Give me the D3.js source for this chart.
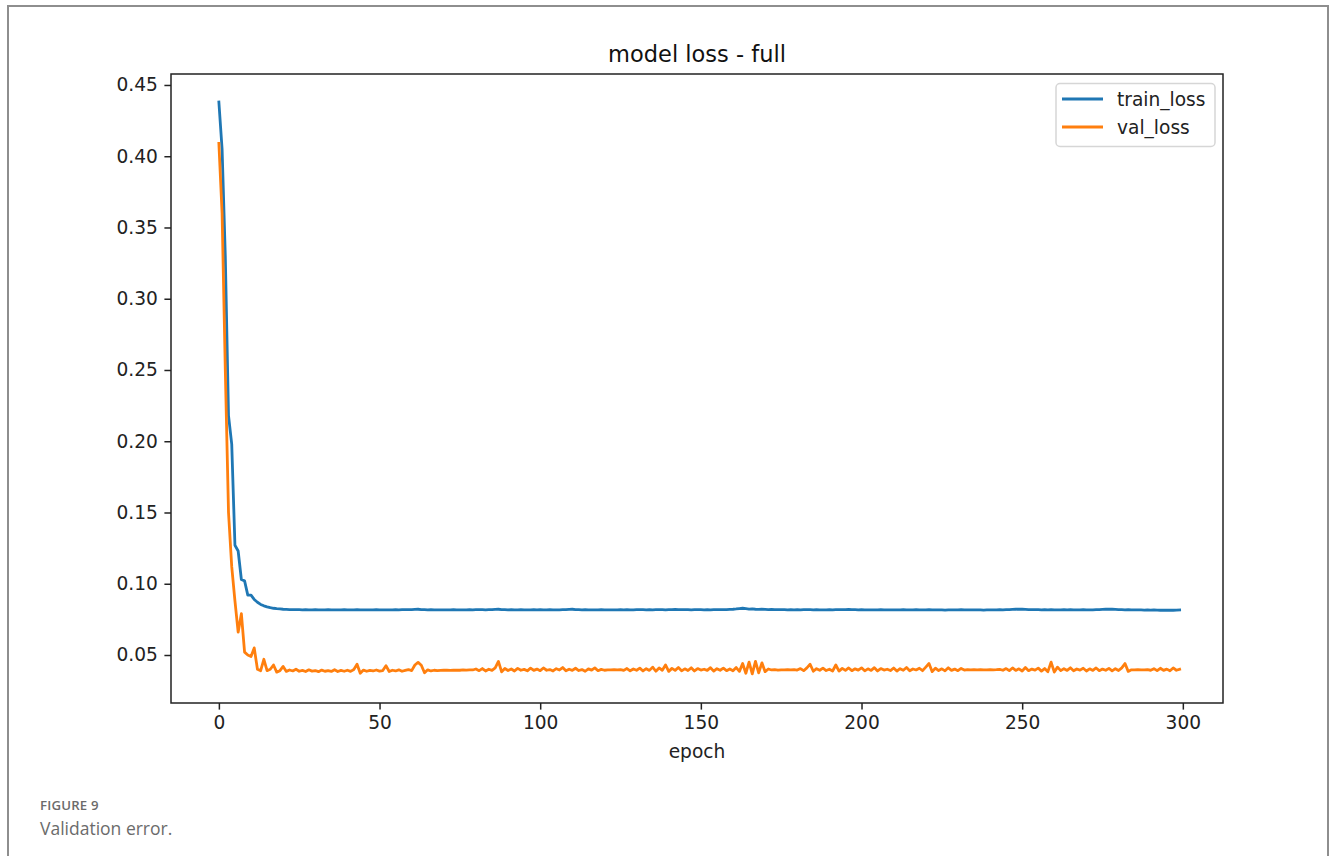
<!DOCTYPE html>
<html>
<head>
<meta charset="utf-8">
<script src="https://cdn.jsdelivr.net/npm/d3@7"></script>
<style>
  html, body { margin: 0; padding: 0; background: #fff; }
  svg { display: block; }
</style>
</head>
<body>
<svg id="chart"></svg>
<script>
const title = 'model loss - full'
const xLabel = 'epoch'
const seriesNames = ['train_loss', 'val_loss']
const xTicks = [0, 50, 100, 150, 200, 250, 300]
const yTicks = [0.05, 0.10, 0.15, 0.20, 0.25, 0.30, 0.35, 0.40, 0.45]

const trainLoss = [
  0.438, 0.405, 0.330, 0.218, 0.198, 0.127, 0.123, 0.103, 0.102, 0.092, 0.092, 0.089, 0.087, 0.0855, 0.0845, 0.0838, 0.0832, 0.0828, 0.0825, 0.0823,
  0.0821, 0.0820, 0.0819, 0.0819, 0.0818, 0.0818, 0.0817, 0.0818, 0.0817, 0.0817, 0.0818, 0.0817, 0.0816, 0.0817, 0.0818, 0.0817, 0.0816, 0.0817, 0.0817, 0.0818,
  0.0817, 0.0816, 0.0817, 0.0818, 0.0817, 0.0816, 0.0817, 0.0817, 0.0816, 0.0818, 0.0817, 0.0816, 0.0817, 0.0816, 0.0817, 0.0818, 0.0817, 0.0818, 0.0819, 0.0818,
  0.0819, 0.0820, 0.0821, 0.0819, 0.0818, 0.0817, 0.0818, 0.0817, 0.0816, 0.0817, 0.0817, 0.0816, 0.0817, 0.0818, 0.0817, 0.0816, 0.0817, 0.0817, 0.0818, 0.0817,
  0.0818, 0.0819, 0.0818, 0.0817, 0.0818, 0.0819, 0.0820, 0.0821, 0.0819, 0.0818, 0.0817, 0.0818, 0.0817, 0.0817, 0.0818, 0.0817, 0.0816, 0.0817, 0.0818, 0.0817,
  0.0818, 0.0817, 0.0817, 0.0818, 0.0817, 0.0816, 0.0817, 0.0818, 0.0819, 0.0820, 0.0821, 0.0819, 0.0818, 0.0817, 0.0818, 0.0817, 0.0816, 0.0817, 0.0817, 0.0818,
  0.0817, 0.0816, 0.0817, 0.0816, 0.0817, 0.0818, 0.0817, 0.0818, 0.0817, 0.0817, 0.0818, 0.0819, 0.0818, 0.0817, 0.0818, 0.0817, 0.0818, 0.0819, 0.0818, 0.0817,
  0.0818, 0.0819, 0.0820, 0.0819, 0.0818, 0.0819, 0.0818, 0.0817, 0.0818, 0.0819, 0.0818, 0.0817, 0.0818, 0.0817, 0.0818, 0.0819, 0.0818, 0.0818, 0.0819, 0.0820,
  0.0821, 0.0823, 0.0826, 0.0828, 0.0825, 0.0822, 0.0823, 0.0821, 0.0820, 0.0821, 0.0820, 0.0819, 0.0820, 0.0819, 0.0818, 0.0819, 0.0818, 0.0817, 0.0818, 0.0817,
  0.0818, 0.0817, 0.0818, 0.0819, 0.0818, 0.0817, 0.0818, 0.0817, 0.0816, 0.0817, 0.0818, 0.0817, 0.0818, 0.0819, 0.0818, 0.0819, 0.0820, 0.0819, 0.0818, 0.0817,
  0.0818, 0.0817, 0.0816, 0.0817, 0.0816, 0.0817, 0.0818, 0.0817, 0.0816, 0.0817, 0.0817, 0.0816, 0.0817, 0.0818, 0.0817, 0.0816, 0.0817, 0.0818, 0.0817, 0.0816,
  0.0817, 0.0818, 0.0817, 0.0816, 0.0817, 0.0816, 0.0815, 0.0816, 0.0817, 0.0816, 0.0817, 0.0818, 0.0817, 0.0816, 0.0817, 0.0816, 0.0817, 0.0816, 0.0815, 0.0816,
  0.0817, 0.0816, 0.0817, 0.0818, 0.0817, 0.0818, 0.0819, 0.0820, 0.0821, 0.0822, 0.0821, 0.0820, 0.0819, 0.0818, 0.0819, 0.0818, 0.0817, 0.0818, 0.0817, 0.0818,
  0.0817, 0.0816, 0.0817, 0.0818, 0.0817, 0.0818, 0.0817, 0.0816, 0.0817, 0.0818, 0.0817, 0.0816, 0.0817, 0.0818, 0.0819, 0.0820, 0.0821, 0.0822, 0.0821, 0.0820,
  0.0819, 0.0818, 0.0817, 0.0818, 0.0817, 0.0816, 0.0817, 0.0816, 0.0815, 0.0816, 0.0815, 0.0816, 0.0815, 0.0814, 0.0815, 0.0814, 0.0815, 0.0814, 0.0815, 0.0816
]

const valLoss = [
  0.409, 0.360, 0.250, 0.150, 0.112, 0.088, 0.066, 0.079, 0.052, 0.050, 0.049, 0.055, 0.040, 0.039, 0.047, 0.039, 0.040, 0.043, 0.038, 0.039,
  0.0420, 0.0385, 0.0395, 0.0388, 0.0400, 0.0386, 0.0392, 0.0384, 0.0396, 0.0387, 0.0391, 0.0383, 0.0394, 0.0386, 0.0390, 0.0385, 0.0397, 0.0384, 0.0392, 0.0386,
  0.0393, 0.0385, 0.0398, 0.0435, 0.0372, 0.0394, 0.0386, 0.0392, 0.0388, 0.0395, 0.0387, 0.0391, 0.0425, 0.0384, 0.0393, 0.0388, 0.0396, 0.0386, 0.0392, 0.0398,
  0.0390, 0.0430, 0.0448, 0.0428, 0.0375, 0.0396, 0.0388, 0.0393, 0.0390, 0.0392, 0.0394, 0.0393, 0.0392, 0.0393, 0.0394, 0.0393, 0.0395, 0.0394, 0.0396, 0.0395,
  0.0402, 0.0390, 0.0405, 0.0388, 0.0400, 0.0392, 0.0410, 0.0455, 0.0382, 0.0405, 0.0391, 0.0402, 0.0388, 0.0406, 0.0393, 0.0399, 0.0389, 0.0408, 0.0392, 0.0401,
  0.0390, 0.0409, 0.0393, 0.0398, 0.0388, 0.0404, 0.0395, 0.0412, 0.0389, 0.0400, 0.0392, 0.0407, 0.0391, 0.0398, 0.0386, 0.0403, 0.0394, 0.0410, 0.0390, 0.0399,
  0.0393, 0.0396, 0.0395, 0.0397, 0.0396, 0.0398, 0.0392, 0.0405, 0.0389, 0.0402, 0.0393, 0.0408, 0.0388, 0.0404, 0.0392, 0.0415, 0.0386, 0.0409, 0.0393, 0.0430,
  0.0385, 0.0406, 0.0392, 0.0412, 0.0389, 0.0403, 0.0391, 0.0410, 0.0388, 0.0405, 0.0394, 0.0400, 0.0392, 0.0411, 0.0387, 0.0404, 0.0393, 0.0408, 0.0390, 0.0402,
  0.0389, 0.0412, 0.0385, 0.0440, 0.0372, 0.0450, 0.0368, 0.0455, 0.0375, 0.0445, 0.0383, 0.0402, 0.0395, 0.0397, 0.0394, 0.0396, 0.0395, 0.0397, 0.0396, 0.0398,
  0.0394, 0.0405, 0.0390, 0.0410, 0.0435, 0.0386, 0.0404, 0.0393, 0.0408, 0.0391, 0.0400, 0.0388, 0.0430, 0.0387, 0.0406, 0.0392, 0.0409, 0.0390, 0.0403, 0.0394,
  0.0410, 0.0389, 0.0403, 0.0392, 0.0411, 0.0388, 0.0405, 0.0394, 0.0400, 0.0391, 0.0409, 0.0387, 0.0404, 0.0393, 0.0412, 0.0389, 0.0402, 0.0395, 0.0407, 0.0390,
  0.0415, 0.0440, 0.0383, 0.0408, 0.0391, 0.0403, 0.0389, 0.0410, 0.0392, 0.0401, 0.0390, 0.0406, 0.0394, 0.0398, 0.0395, 0.0397, 0.0396, 0.0397, 0.0395, 0.0396,
  0.0398, 0.0396, 0.0397, 0.0399, 0.0393, 0.0405, 0.0390, 0.0409, 0.0392, 0.0403, 0.0388, 0.0412, 0.0390, 0.0401, 0.0394, 0.0408, 0.0387, 0.0405, 0.0383, 0.0450,
  0.0380, 0.0415, 0.0390, 0.0404, 0.0392, 0.0410, 0.0389, 0.0402, 0.0394, 0.0407, 0.0388, 0.0403, 0.0392, 0.0409, 0.0390, 0.0401, 0.0393, 0.0406, 0.0389, 0.0404,
  0.0391, 0.0410, 0.0440, 0.0385, 0.0396, 0.0395, 0.0397, 0.0396, 0.0395, 0.0397, 0.0393, 0.0404, 0.0390, 0.0407, 0.0392, 0.0401, 0.0389, 0.0409, 0.0393, 0.0400
]

const colors = ['#1f77b4', '#ff7f0e']

const width = 1330
const height = 856
const box = { left: 171, right: 1223, top: 74, bottom: 703 }
const font = '"DejaVu Sans", sans-serif'

const svg = d3.select('svg#chart')
  .attr('width', width)
  .attr('height', height)

// card frame round the figure (top, left, right only)
svg.append('path')
  .attr('d', `M8,${height} V6 H1328 V${height}`)
  .attr('fill', 'none')
  .attr('stroke', '#8e8e8e')
  .attr('stroke-width', 2)

const x = d3.scaleLinear().domain([-14.9, 312.5]).range([box.left, box.right])
const y = d3.scaleLinear().domain([0.01632, 0.4577]).range([box.bottom, box.top])

const series = [trainLoss, valLoss].map((vals, i) => ({
  name: seriesNames[i],
  color: colors[i],
  points: vals.map((v, e) => ({ epoch: e, loss: v }))
}))

const line = d3.line()
  .x(d => x(d.epoch))
  .y(d => y(d.loss))

const plot = svg.append('g')

plot.selectAll('.series')
  .data(series)
  .enter().append('path')
  .attr('class', 'series')
  .attr('d', d => line(d.points))
  .attr('fill', 'none')
  .attr('stroke', d => d.color)
  .attr('stroke-width', 2.8)
  .attr('stroke-linejoin', 'round')
  .attr('stroke-linecap', 'square')

// axes
const xAxis = svg.append('g')
  .attr('transform', `translate(0,${box.bottom})`)
  .call(d3.axisBottom(x).tickValues(xTicks).tickFormat(d3.format('d')).tickSize(6.6).tickPadding(6.6))
const yAxis = svg.append('g')
  .attr('transform', `translate(${box.left},0)`)
  .call(d3.axisLeft(y).tickValues(yTicks).tickFormat(d3.format('.2f')).tickSize(6.6).tickPadding(6.6))

;[xAxis, yAxis].forEach(a => {
  a.select('.domain').remove()
  a.selectAll('line').attr('stroke', '#222').attr('stroke-width', 1.5)
  a.selectAll('text')
    .attr('fill', '#222')
    .style('font-family', font)
    .style('font-size', '18.6px')
})

svg.append('rect')
  .attr('x', box.left)
  .attr('y', box.top)
  .attr('width', box.right - box.left)
  .attr('height', box.bottom - box.top)
  .attr('fill', 'none')
  .attr('stroke', '#222')
  .attr('stroke-width', 1.5)

svg.append('text')
  .attr('x', (box.left + box.right) / 2)
  .attr('y', 62)
  .attr('text-anchor', 'middle')
  .attr('fill', '#111')
  .style('font-family', font)
  .style('font-size', '22.5px')
  .text(title)

svg.append('text')
  .attr('x', (box.left + box.right) / 2)
  .attr('y', 758)
  .attr('text-anchor', 'middle')
  .attr('fill', '#222')
  .style('font-family', font)
  .style('font-size', '18.6px')
  .text(xLabel)

// legend
const legend = svg.append('g')
legend.append('rect')
  .attr('x', 1056)
  .attr('y', 83.5)
  .attr('width', 159)
  .attr('height', 63)
  .attr('rx', 4)
  .attr('fill', 'rgba(255,255,255,0.8)')
  .attr('stroke', '#d6d6d6')
  .attr('stroke-width', 1.5)

const item = legend.selectAll('.item')
  .data(series)
  .enter().append('g')
  .attr('class', 'item')
  .attr('transform', (d, i) => `translate(1062,${99 + i * 28})`)
item.append('line')
  .attr('x1', 0)
  .attr('x2', 41)
  .attr('stroke', d => d.color)
  .attr('stroke-width', 2.8)
item.append('text')
  .attr('x', 55)
  .attr('y', 6.5)
  .attr('fill', '#222')
  .style('font-family', font)
  .style('font-size', '18.6px')
  .text(d => d.name)

// caption
svg.append('text')
  .attr('x', 40)
  .attr('y', 809.5)
  .attr('fill', '#6b6b6b')
  .style('font-family', '"Open Sans", sans-serif')
  .style('font-size', '13.2px')
  .style('font-weight', 600)
  .style('letter-spacing', '0.2px')
  .text('FIGURE 9')
svg.append('text')
  .attr('x', 40)
  .attr('y', 835)
  .attr('fill', '#6b6b6b')
  .style('font-family', '"Open Sans", sans-serif')
  .style('font-size', '17.5px')
  .text('Validation error.')
</script>
</body>
</html>
